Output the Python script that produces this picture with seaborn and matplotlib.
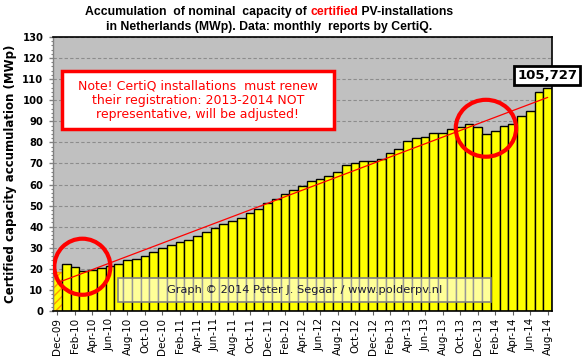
import numpy as np
import pandas as pd
import seaborn as sns
import matplotlib.pyplot as plt
from matplotlib.patches import Ellipse, Rectangle
from matplotlib.ticker import MultipleLocator

# monthly CertiQ reports, Dec-09 .. Aug-14
months = pd.date_range("2009-12-01", "2014-08-01", freq="MS").strftime("%b-%y").tolist()
capacity = [18.7, 22.2, 21.0, 19.0, 19.4, 20.2, 21.5, 22.2, 24.2, 24.7,
            26.1, 28.0, 29.9, 31.2, 32.7, 33.7, 35.4, 37.5, 39.4, 41.1,
            42.5, 44.0, 46.3, 48.5, 51.1, 53.3, 55.4, 57.4, 59.4, 61.5,
            62.5, 64.2, 65.8, 69.1, 70.0, 71.0, 71.0, 72.0, 74.8, 76.7,
            80.5, 81.9, 82.4, 84.3, 84.3, 86.2, 87.1, 88.6, 87.4, 83.8,
            85.2, 87.9, 88.6, 92.4, 94.7, 103.7, 105.727]
tick_labels = months[::2]
yticks = list(range(0, 131, 10))

title1 = [("Accumulation  of nominal  capacity of ", "black"),
          ("certified", "red"),
          (" PV-installations", "black")]
title2 = [("in Netherlands (MWp). Data: monthly  reports by CertiQ.", "black")]
note = ("Note! CertiQ installations  must renew\n"
        "their registration: 2013-2014 NOT\n"
        "representative, will be adjusted!")
credit = "Graph \u00a9 2014 Peter J. Segaar / www.polderpv.nl"

sns.set_theme(style="white")
plt.rcParams['font.family'] = ['DejaVu Sans']
plt.rcParams['hatch.linewidth'] = 1.0
plt.rcParams['text.color'] = 'black'
plt.rcParams['axes.labelcolor'] = 'black'
plt.rcParams['xtick.color'] = 'black'
plt.rcParams['ytick.color'] = 'black'

fig = plt.figure(figsize=(5.84, 3.56), dpi=100)
ax = fig.add_axes([0.0908, 0.1264, 0.8545, 0.7697])
ax.set_facecolor('#C0C0C0')

df = pd.DataFrame({"month": months, "mwp": capacity})
sns.barplot(data=df, x="month", y="mwp", color="#FFFF00", saturation=1,
            width=1.0, edgecolor="black", linewidth=1.0, ax=ax, zorder=2)
# first month: partial data, hatched
first = ax.patches[0]
first.set_hatch('////')
first.set_edgecolor('#FF9900')

# linear trend
sns.regplot(x=np.arange(len(capacity)), y=capacity, scatter=False, ci=None,
            color='red', line_kws={'lw': 0.9, 'zorder': 4}, ax=ax)

ax.set_xlim(-0.5, len(capacity) - 0.5)
ax.set_ylim(0, 130)
ax.set_yticks(yticks)
ax.set_yticklabels([str(v) for v in yticks], fontweight='bold', fontsize=7.2)
ax.yaxis.set_minor_locator(MultipleLocator(2))
ax.tick_params(axis='y', which='major', direction='out', length=3, width=1,
               color='#808080', labelcolor='black', pad=4, left=True)
ax.tick_params(axis='y', which='minor', direction='out', length=1.8, width=0.8,
               color='#808080', left=True)
ax.set_xticks(range(0, len(capacity), 2))
ax.set_xticklabels(tick_labels, rotation=90, fontsize=7.5)
ax.tick_params(axis='x', direction='out', length=3, width=0.8, color='#606060',
               labelcolor='black', pad=2, bottom=True)
ax.set_xlabel("")
ax.set_ylabel("Certified capacity accumulation (MWp)", fontweight='bold',
              fontsize=8.5, color='black')
ax.yaxis.set_label_coords(-0.072, 0.5)

ax.yaxis.grid(True, color='#8c8c8c', linestyle=(0, (3, 2)), lw=0.8)
ax.set_axisbelow(True)
for s in ['top', 'right', 'bottom']:
    ax.spines[s].set_color('black')
    ax.spines[s].set_linewidth(1.2)
ax.spines['left'].set_color('#808080')
ax.spines['left'].set_linewidth(1.0)

# red circles
ax.add_patch(Ellipse((2.85, 21.0), 6.4, 26.6, fill=False, ec='red', lw=3, zorder=5))
ax.add_patch(Ellipse((48.95, 86.7), 6.9, 27.0, fill=False, ec='red', lw=3, zorder=5))

# note box
ax.add_patch(Rectangle((0.0174, 0.663), 0.5456, 0.214, transform=ax.transAxes,
                       fc='white', ec='red', lw=2.5, zorder=6))
ax.text(0.290, 0.770, note, transform=ax.transAxes, ha='center', va='center',
        color='red', fontsize=9, linespacing=1.1, zorder=7)

# credit box
ax.add_patch(Rectangle((0.131, 0.0318), 0.746, 0.087, transform=ax.transAxes,
                       fc=(1, 1, 1, 0.6), ec='#808080', lw=1.2, zorder=6))
ax.text(0.504, 0.075, credit, transform=ax.transAxes, ha='center', va='center',
        color='#1a1a33', fontsize=8.2, zorder=7)

# last value label
last = f"{capacity[-1]:.3f}".replace('.', ',')
ax.text(0.990, 0.859, last, transform=ax.transAxes, ha='center', va='center',
        fontsize=9.5, fontweight='bold', color='black', zorder=8, clip_on=False,
        bbox=dict(boxstyle='square,pad=0.25', fc='white', ec='black', lw=2))


def title_line(parts, y, cx=0.461):
    r = fig.canvas.get_renderer()
    texts = [fig.text(0, y, s, color=c, fontsize=8.8, fontweight='bold',
                      family='Liberation Sans', va='center')
             for s, c in parts]
    widths = [t.get_window_extent(r).width for t in texts]
    x = cx * fig.bbox.width - sum(widths) / 2
    for t, w in zip(texts, widths):
        t.set_x(x / fig.bbox.width)
        x += w


title_line(title1, 0.9654)
title_line(title2, 0.925)

fig.savefig("out.png", dpi=100)
